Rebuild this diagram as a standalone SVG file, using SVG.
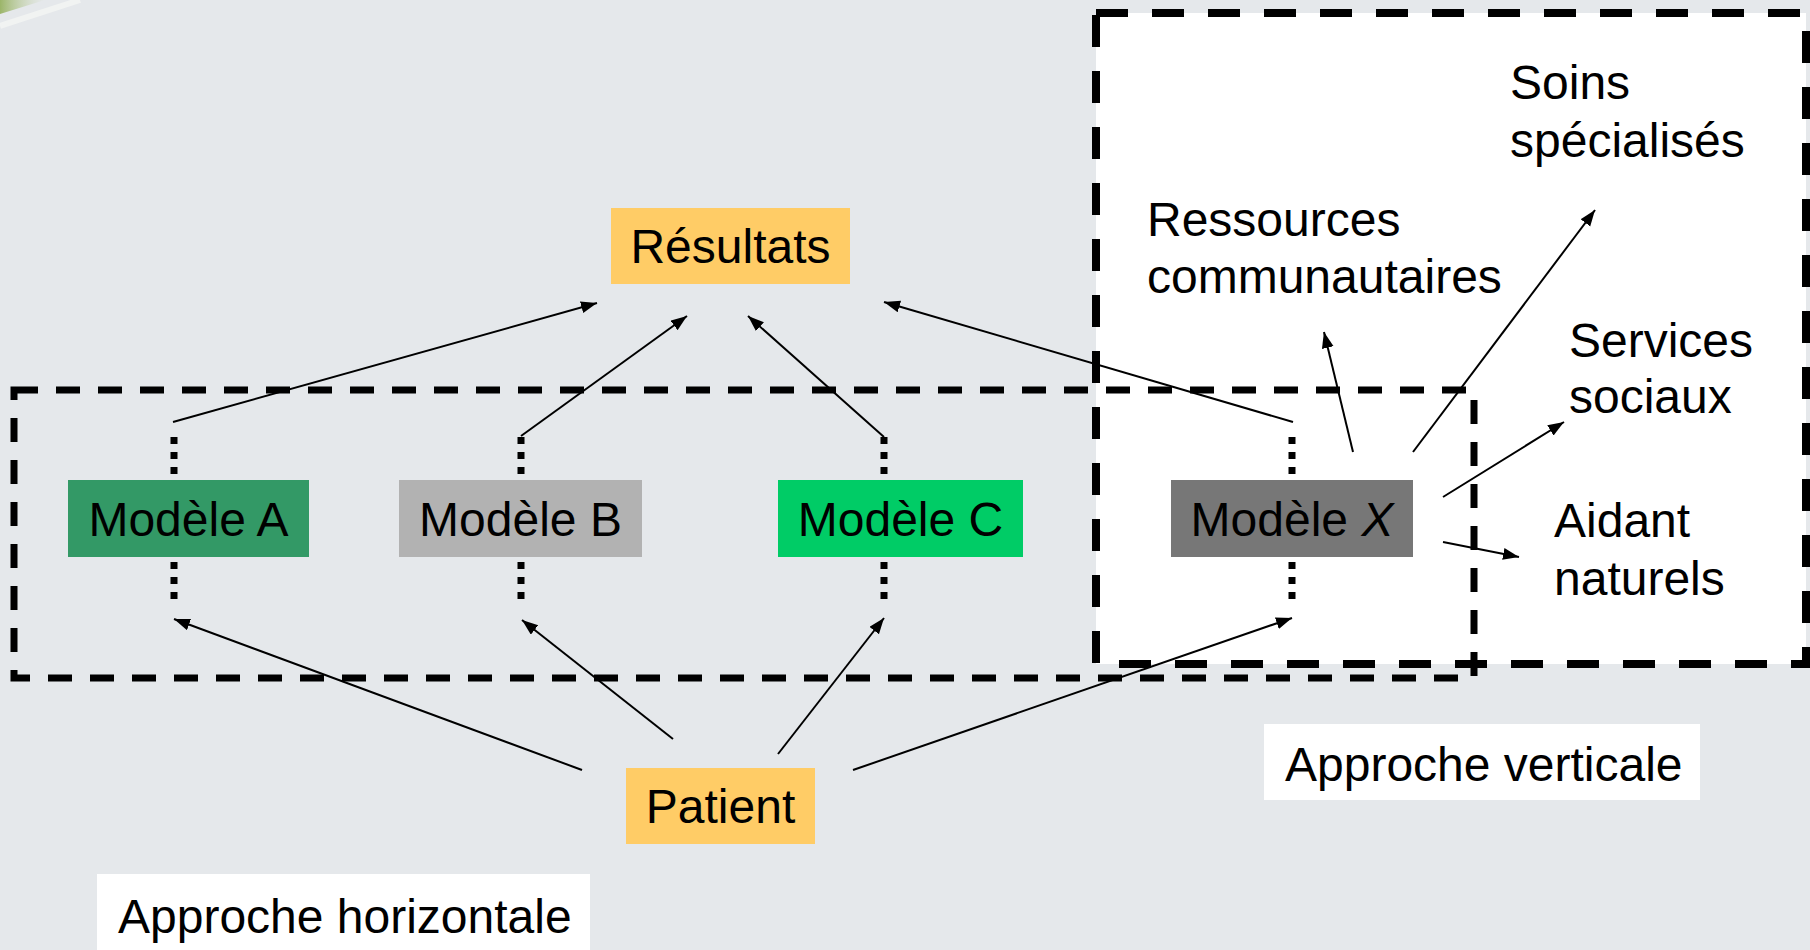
<svg xmlns="http://www.w3.org/2000/svg" width="1810" height="950" viewBox="0 0 1810 950">
<style>
text{font-family:"Liberation Sans",Arial,sans-serif;font-size:48px;fill:#000}
.mid{text-anchor:middle}
.conn{stroke:#000;stroke-width:2;fill:none}
.arr{marker-end:url(#ah)}
.dot{stroke:#000;stroke-width:7;stroke-dasharray:7 8;fill:none}
.hbox{fill:none;stroke:#000;stroke-width:7;stroke-dasharray:24 18}
.vbox{stroke:#000;stroke-width:8;stroke-dasharray:32 24}
</style>
<defs>
<marker id="ah" markerUnits="userSpaceOnUse" markerWidth="18" markerHeight="14" refX="16" refY="6" orient="auto">
<path d="M0,0 L16,6 L0,12 z" fill="#000"/>
</marker>
<linearGradient id="sw" x1="0" y1="0" x2="1" y2="0">
<stop offset="0" stop-color="#9bb569"/>
<stop offset="1" stop-color="#c9d6b0" stop-opacity="0"/>
</linearGradient>
</defs>
<rect width="1810" height="950" fill="#e5e8eb"/>
<g id="swirl">
<path d="M0,0 L45,0 L0,14 z" fill="url(#sw)"/>
<path d="M0,26 L80,0" stroke="#f4f6f4" stroke-width="6" opacity="0.8"/>
</g>
<g id="vertical-box">
<rect x="1096" y="13" width="710" height="651" fill="#fff" class="vbox"/>
</g>
<g id="horizontal-box">
<rect x="14" y="390" width="1460" height="288" class="hbox"/>
</g>
<g id="connectors">
<path class="dot" d="M174,437 V476 M174,562 V605"/>
<path class="dot" d="M521,437 V476 M521,562 V605"/>
<path class="dot" d="M884,437 V476 M884,562 V605"/>
<path class="dot" d="M1292,437 V476 M1292,562 V605"/>
<line class="conn arr" x1="173" y1="422" x2="597" y2="303"/>
<line class="conn arr" x1="521" y1="436" x2="687" y2="316"/>
<line class="conn arr" x1="884" y1="437" x2="748" y2="316"/>
<line class="conn arr" x1="1293" y1="422" x2="884" y2="302"/>
<line class="conn arr" x1="582" y1="770" x2="174" y2="619"/>
<line class="conn arr" x1="673" y1="739" x2="522" y2="620"/>
<line class="conn arr" x1="778" y1="754" x2="884" y2="618"/>
<line class="conn arr" x1="853" y1="770" x2="1292" y2="618"/>
<line class="conn arr" x1="1353" y1="452" x2="1324" y2="332"/>
<line class="conn arr" x1="1413" y1="452" x2="1595" y2="210"/>
<line class="conn arr" x1="1443" y1="497" x2="1564" y2="422"/>
<line class="conn arr" x1="1443" y1="542" x2="1519" y2="557"/>
</g>
<g id="resultats">
<rect x="611" y="208" width="239" height="76" fill="#ffcc66"/>
<text class="mid" x="730.5" y="263">Résultats</text>
</g>
<g id="modele-a">
<rect x="68" y="480" width="241" height="77" fill="#339966"/>
<text class="mid" x="188.5" y="536">Modèle A</text>
</g>
<g id="modele-b">
<rect x="399" y="480" width="243" height="77" fill="#b2b2b2"/>
<text class="mid" x="520.5" y="536">Modèle B</text>
</g>
<g id="modele-c">
<rect x="778" y="480" width="245" height="77" fill="#00cc66"/>
<text class="mid" x="900.5" y="536">Modèle C</text>
</g>
<g id="modele-x">
<rect x="1171" y="480" width="242" height="77" fill="#777777"/>
<text class="mid" x="1292" y="536">Modèle <tspan font-style="italic">X</tspan></text>
</g>
<g id="patient">
<rect x="626" y="768" width="189" height="76" fill="#ffcc66"/>
<text class="mid" x="720.5" y="823">Patient</text>
</g>
<g id="soins">
<text x="1510" y="99">Soins</text>
<text x="1510" y="157">spécialisés</text>
</g>
<g id="ressources">
<text x="1147" y="236">Ressources</text>
<text x="1147" y="293">communautaires</text>
</g>
<g id="services">
<text x="1569" y="357">Services</text>
<text x="1569" y="413">sociaux</text>
</g>
<g id="aidant">
<text x="1554" y="537">Aidant</text>
<text x="1554" y="595">naturels</text>
</g>
<g id="approche-verticale">
<rect x="1264" y="724" width="436" height="76" fill="#fff"/>
<text x="1285" y="781">Approche verticale</text>
</g>
<g id="approche-horizontale">
<rect x="97" y="874" width="493" height="76" fill="#fff"/>
<text x="118" y="933">Approche horizontale</text>
</g>
</svg>
